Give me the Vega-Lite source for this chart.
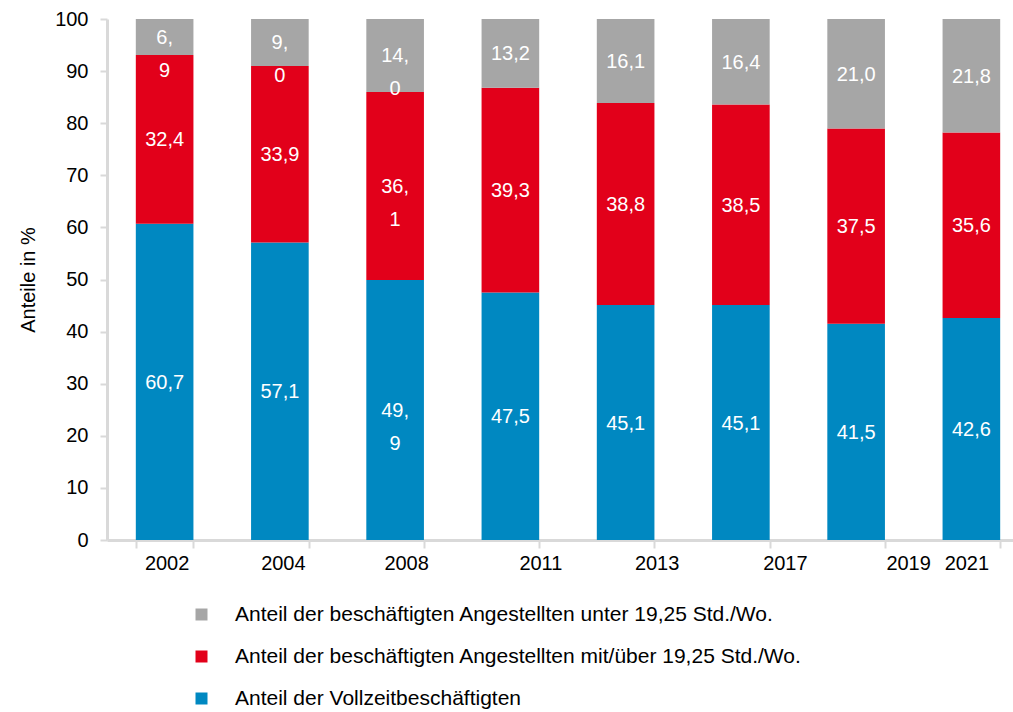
{
  "$schema": "https://vega.github.io/schema/vega-lite/v6.json",
  "width": 922,
  "height": 521,
  "autosize": {"type": "none"},
  "padding": {"left": 107, "top": 19, "right": -16, "bottom": 172},
  "background": "white",
  "config": {
    "font": "Liberation Sans",
    "view": {"stroke": null}
  },
  "data": {
    "values": [
      {"year": "2002", "category": "Anteil der Vollzeitbeschäftigten", "order": 1, "value": 60.7, "label": "60,7"},
      {"year": "2002", "category": "Anteil der beschäftigten Angestellten mit/über 19,25 Std./Wo.", "order": 2, "value": 32.4, "label": "32,4"},
      {"year": "2002", "category": "Anteil der beschäftigten Angestellten unter 19,25 Std./Wo.", "order": 3, "value": 6.9, "label": "6,\n9"},
      {"year": "2004", "category": "Anteil der Vollzeitbeschäftigten", "order": 1, "value": 57.1, "label": "57,1"},
      {"year": "2004", "category": "Anteil der beschäftigten Angestellten mit/über 19,25 Std./Wo.", "order": 2, "value": 33.9, "label": "33,9"},
      {"year": "2004", "category": "Anteil der beschäftigten Angestellten unter 19,25 Std./Wo.", "order": 3, "value": 9.0, "label": "9,\n0"},
      {"year": "2008", "category": "Anteil der Vollzeitbeschäftigten", "order": 1, "value": 49.9, "label": "49,\n9"},
      {"year": "2008", "category": "Anteil der beschäftigten Angestellten mit/über 19,25 Std./Wo.", "order": 2, "value": 36.1, "label": "36,\n1"},
      {"year": "2008", "category": "Anteil der beschäftigten Angestellten unter 19,25 Std./Wo.", "order": 3, "value": 14.0, "label": "14,\n0"},
      {"year": "2011", "category": "Anteil der Vollzeitbeschäftigten", "order": 1, "value": 47.5, "label": "47,5"},
      {"year": "2011", "category": "Anteil der beschäftigten Angestellten mit/über 19,25 Std./Wo.", "order": 2, "value": 39.3, "label": "39,3"},
      {"year": "2011", "category": "Anteil der beschäftigten Angestellten unter 19,25 Std./Wo.", "order": 3, "value": 13.2, "label": "13,2"},
      {"year": "2013", "category": "Anteil der Vollzeitbeschäftigten", "order": 1, "value": 45.1, "label": "45,1"},
      {"year": "2013", "category": "Anteil der beschäftigten Angestellten mit/über 19,25 Std./Wo.", "order": 2, "value": 38.8, "label": "38,8"},
      {"year": "2013", "category": "Anteil der beschäftigten Angestellten unter 19,25 Std./Wo.", "order": 3, "value": 16.1, "label": "16,1"},
      {"year": "2017", "category": "Anteil der Vollzeitbeschäftigten", "order": 1, "value": 45.1, "label": "45,1"},
      {"year": "2017", "category": "Anteil der beschäftigten Angestellten mit/über 19,25 Std./Wo.", "order": 2, "value": 38.5, "label": "38,5"},
      {"year": "2017", "category": "Anteil der beschäftigten Angestellten unter 19,25 Std./Wo.", "order": 3, "value": 16.4, "label": "16,4"},
      {"year": "2019", "category": "Anteil der Vollzeitbeschäftigten", "order": 1, "value": 41.5, "label": "41,5"},
      {"year": "2019", "category": "Anteil der beschäftigten Angestellten mit/über 19,25 Std./Wo.", "order": 2, "value": 37.5, "label": "37,5"},
      {"year": "2019", "category": "Anteil der beschäftigten Angestellten unter 19,25 Std./Wo.", "order": 3, "value": 21.0, "label": "21,0"},
      {"year": "2021", "category": "Anteil der Vollzeitbeschäftigten", "order": 1, "value": 42.6, "label": "42,6"},
      {"year": "2021", "category": "Anteil der beschäftigten Angestellten mit/über 19,25 Std./Wo.", "order": 2, "value": 35.6, "label": "35,6"},
      {"year": "2021", "category": "Anteil der beschäftigten Angestellten unter 19,25 Std./Wo.", "order": 3, "value": 21.8, "label": "21,8"}
    ]
  },
  "encoding": {
    "x": {
      "field": "year",
      "type": "ordinal",
      "scale": {"paddingInner": 0.5, "paddingOuter": 0.25},
      "axis": {
        "title": null,
        "labelAngle": 0,
        "labelFontSize": 20,
        "labelColor": "#000000",
        "labelPadding": 5,
        "labelOffset": {"expr": "datum.value == '2002' ? 2 : datum.value == '2004' ? 3 : datum.value == '2008' ? 11 : datum.value == '2011' ? 30 : datum.value == '2013' ? 31 : datum.value == '2017' ? 44 : datum.value == '2019' ? 52 : -5"},
        "tickBand": "extent",
        "tickSize": 8,
        "tickWidth": 2,
        "tickColor": "#D9D9D9",
        "domainColor": "#D9D9D9",
        "domainWidth": 3
      }
    }
  },
  "layer": [
    {
      "mark": {"type": "bar"},
      "encoding": {
        "y": {
          "field": "value",
          "type": "quantitative",
          "stack": "zero",
          "scale": {"domain": [0, 100], "nice": false},
          "axis": {
            "title": "Anteile in %",
            "titleFontSize": 20,
            "titleFontWeight": "normal",
            "titleColor": "#000000",
            "titlePadding": 16,
            "values": [0, 10, 20, 30, 40, 50, 60, 70, 80, 90, 100],
            "grid": false,
            "labelFontSize": 20,
            "labelColor": "#000000",
            "labelPadding": 12,
            "tickSize": 7,
            "tickWidth": 2,
            "tickColor": "#D9D9D9",
            "domainColor": "#D9D9D9",
            "domainWidth": 3
          }
        },
        "order": {"field": "order", "type": "quantitative", "sort": "ascending"},
        "color": {
          "field": "category",
          "type": "nominal",
          "scale": {
            "domain": [
              "Anteil der beschäftigten Angestellten unter 19,25 Std./Wo.",
              "Anteil der beschäftigten Angestellten mit/über 19,25 Std./Wo.",
              "Anteil der Vollzeitbeschäftigten"
            ],
            "range": ["#A6A6A6", "#E2001A", "#0088C1"]
          },
          "legend": {
            "title": null,
            "orient": "none",
            "legendX": 84,
            "legendY": 585,
            "direction": "vertical",
            "symbolType": "square",
            "symbolSize": 144,
            "symbolStrokeWidth": 0,
            "labelFontSize": 21,
            "labelColor": "#000000",
            "labelOffset": 23,
            "rowPadding": 20,
            "labelLimit": 900,
            "padding": 0
          }
        }
      }
    },
    {
      "transform": [
        {
          "window": [{"op": "sum", "field": "value", "as": "cum"}],
          "groupby": ["year"],
          "sort": [{"field": "order", "order": "ascending"}],
          "frame": [null, 0]
        },
        {"calculate": "datum.cum - datum.value / 2", "as": "mid"}
      ],
      "mark": {
        "type": "text",
        "color": "#FFFFFF",
        "fontSize": 20,
        "align": "center",
        "baseline": "top",
        "dy": -9,
        "lineBreak": "\n",
        "lineHeight": 33
      },
      "encoding": {
        "y": {"field": "mid", "type": "quantitative", "scale": {"domain": [0, 100], "nice": false}},
        "text": {"field": "label", "type": "nominal"}
      }
    }
  ]
}
